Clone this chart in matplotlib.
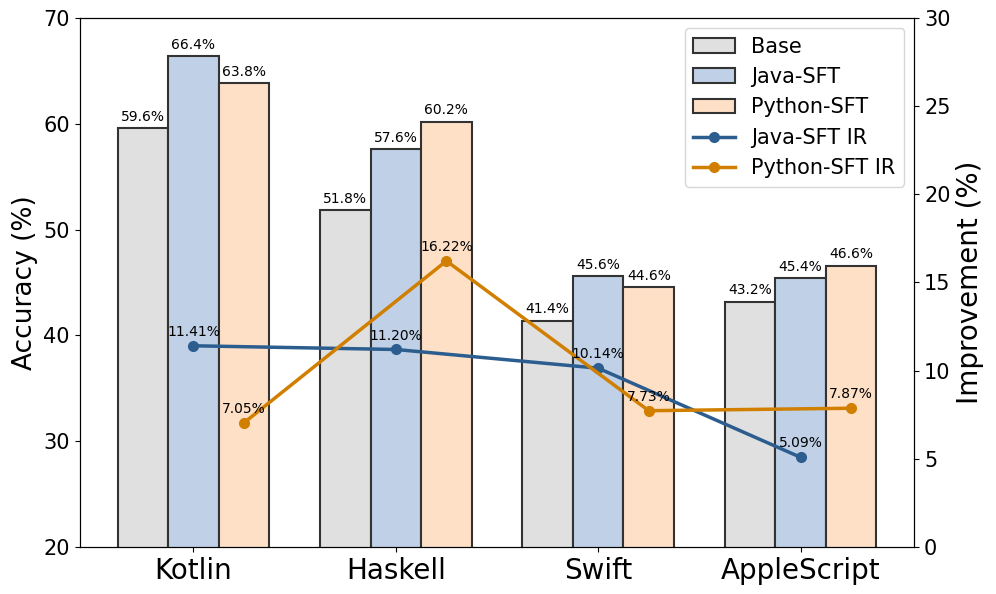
import numpy as np
import matplotlib
matplotlib.use('Agg')
import matplotlib.pyplot as plt

# Data
languages = ['Kotlin', 'Haskell', 'Swift', 'AppleScript']
base_acc = [59.6, 51.8, 41.4, 43.2]
java_acc = [66.4, 57.6, 45.6, 45.4]
python_acc = [63.8, 60.2, 44.6, 46.6]
java_ir = [11.41, 11.20, 10.14, 5.09]
python_ir = [7.05, 16.22, 7.73, 7.87]

x = np.arange(len(languages))
w = 0.25

fig, ax = plt.subplots(figsize=(9.96, 5.94), dpi=100)
fig.subplots_adjust(left=0.08, right=0.918, top=0.97, bottom=0.079)

edge = '#333333'
b1 = ax.bar(x - w, base_acc, w, color='#e0e0e0', edgecolor=edge, linewidth=1.5, label='Base')
b2 = ax.bar(x, java_acc, w, color='#c0d0e6', edgecolor=edge, linewidth=1.5, label='Java-SFT')
b3 = ax.bar(x + w, python_acc, w, color='#fde0c6', edgecolor=edge, linewidth=1.5, label='Python-SFT')

for bars in (b1, b2, b3):
    for b in bars:
        ax.annotate(f'{b.get_height():.1f}%', (b.get_x() + b.get_width() / 2, b.get_height()),
                    xytext=(0, 3), textcoords='offset points', ha='center', va='bottom', fontsize=10)

ax.set_ylim(20, 70)
ax.set_ylabel('Accuracy (%)', fontsize=19)
ax.set_xticks(x)
ax.set_xticklabels(languages, fontsize=20)
ax.tick_params(axis='y', labelsize=15)

ax2 = ax.twinx()
l1, = ax2.plot(x, java_ir, marker='o', color='#2c5d8f', linewidth=2.5, markersize=7, label='Java-SFT IR')
l2, = ax2.plot(x + w, python_ir, marker='o', color='#d17f00', linewidth=2.5, markersize=7, label='Python-SFT IR')
for xi, v in zip(x, java_ir):
    ax2.annotate(f'{v:.2f}%', (xi, v), xytext=(0, 5), textcoords='offset points', ha='center', va='bottom', fontsize=10)
for xi, v in zip(x + w, python_ir):
    ax2.annotate(f'{v:.2f}%', (xi, v), xytext=(0, 5), textcoords='offset points', ha='center', va='bottom', fontsize=10)
ax2.set_ylim(0, 30)
ax2.set_ylabel('Improvement (%)', fontsize=20)
ax2.tick_params(axis='y', labelsize=15)

handles = [b1, b2, b3, l1, l2]
ax2.legend(handles, [h.get_label() for h in handles], loc='upper right', fontsize=15)

plt.savefig('out.png', dpi=100)
